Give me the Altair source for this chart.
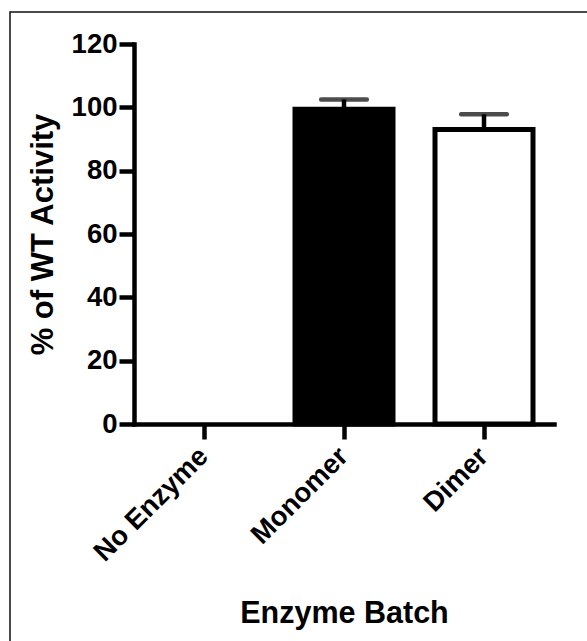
import altair as alt
import pandas as pd

categories = ["No Enzyme", "Monomer", "Dimer"]
values = [0.0, 99.4, 93.0]
upper = [0.0, 102.5, 97.8]
fills = ["#000000", "#000000", "#ffffff"]

df = pd.DataFrame({"batch": categories, "value": values, "upper": upper, "fill": fills})

W, H = 420, 380
PL, PT = 134, 44
FONT = "Liberation Sans"

x = alt.X("batch:N", sort=categories, title="Enzyme Batch",
          scale=alt.Scale(domain=categories, paddingInner=0.3, paddingOuter=0.15),
          axis=alt.Axis(labelAngle=-45, labelFontSize=27.5, labelFontWeight="bold",
                        labelFont=FONT, labelColor="black", labelPadding=3,
                        labelOffset=-10,
                        titleFontSize=30.5, titleFontWeight="bold", titleFont=FONT,
                        titleColor="black", titleBaseline="alphabetic", titleY=198,
                        domainWidth=4.5, domainColor="black", tickWidth=4.5,
                        tickColor="black", tickSize=15, domainCap="square"))
y = alt.Y("value:Q", title="% of WT Activity",
          scale=alt.Scale(domain=[0, 120], nice=False),
          axis=alt.Axis(values=[0, 20, 40, 60, 80, 100, 120], labelFontSize=27.5,
                        labelFontWeight="bold", labelFont=FONT, labelColor="black",
                        labelPadding=2, titleFontSize=31, titleFontWeight="bold",
                        titleFont=FONT, titleColor="black", titleBaseline="alphabetic",
                        titleX=-82, domainWidth=4.5, domainColor="black",
                        tickWidth=4.5, tickColor="black", tickSize=15,
                        grid=False, domainCap="square"))

base = alt.Chart(df)

frame = base.mark_rect(fill=None, stroke="#111111", strokeWidth=1.5).encode(
    x=alt.value(-124), x2=alt.value(W + 200), y=alt.value(-32), y2=alt.value(H + 300)
).transform_filter(alt.datum.batch == "Monomer")

bars = base.mark_bar(stroke="black", strokeWidth=5).encode(
    x=x, y=y,
    fill=alt.Fill("fill:N", scale=None),
).transform_filter(alt.datum.value > 0)

stems = base.mark_rule(color="black", strokeWidth=4.5).encode(
    x=alt.X("batch:N", sort=categories),
    y=alt.Y("value:Q"), y2="upper:Q"
).transform_filter(alt.datum.upper > 0)

caps = base.mark_tick(color="black", size=50, thickness=4.5, cornerRadius=2).encode(
    x=alt.X("batch:N", sort=categories),
    y=alt.Y("upper:Q")
).transform_filter(alt.datum.upper > 0)

chart = alt.layer(frame, bars, stems, caps).properties(
    width=W, height=H,
    autosize=alt.AutoSizeParams(type="none"),
    padding={"left": PL, "top": PT, "right": 587 - PL - W, "bottom": 641 - PT - H},
    background="white",
).configure_view(stroke=None)

chart.save("out.html", embed_options={"renderer": "svg", "actions": False})
